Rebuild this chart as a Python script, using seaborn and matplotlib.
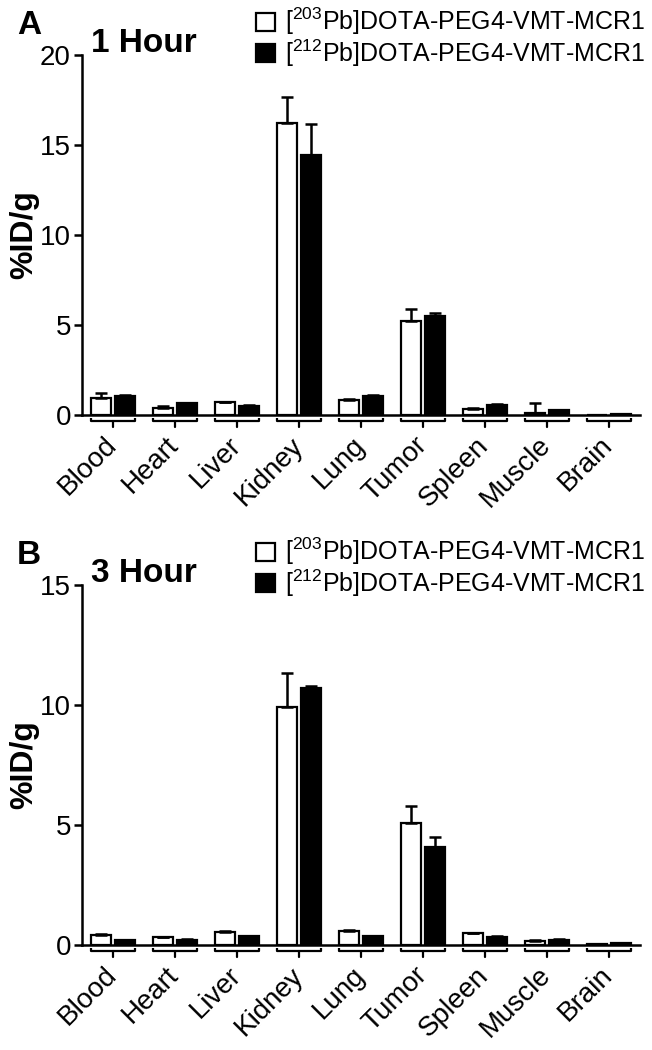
import matplotlib
matplotlib.use("Agg")
import matplotlib.pyplot as plt
import matplotlib.transforms as mtransforms
import seaborn as sns
import pandas as pd
import numpy as np

organs = ['Blood', 'Heart', 'Liver', 'Kidney', 'Lung', 'Tumor', 'Spleen', 'Muscle', 'Brain']
compounds = [r'[$\mathregular{^{203}}$Pb]DOTA-PEG4-VMT-MCR1',
             r'[$\mathregular{^{212}}$Pb]DOTA-PEG4-VMT-MCR1']

# 1 hour: means and SD (upper error)
a_203_mean = [0.96, 0.37, 0.70, 16.24, 0.82, 5.20, 0.35, 0.13, 0.02]
a_203_sd   = [0.28, 0.15, 0.04, 1.41, 0.08, 0.70, 0.06, 0.56, 0.00]
a_212_mean = [1.06, 0.65, 0.52, 14.44, 1.06, 5.50, 0.56, 0.30, 0.07]
a_212_sd   = [0.05, 0.02, 0.02, 1.71, 0.05, 0.15, 0.07, 0.00, 0.00]

# 3 hour
b_203_mean = [0.43, 0.32, 0.56, 9.92, 0.57, 5.10, 0.50, 0.18, 0.03]
b_203_sd   = [0.03, 0.03, 0.01, 1.41, 0.04, 0.70, 0.01, 0.04, 0.00]
b_212_mean = [0.19, 0.22, 0.375, 10.70, 0.36, 4.10, 0.35, 0.22, 0.07]
b_212_sd   = [0.02, 0.01, 0.01, 0.10, 0.01, 0.40, 0.01, 0.01, 0.00]

panels = [
    dict(letter='A', title='1 Hour', m203=a_203_mean, s203=a_203_sd, m212=a_212_mean, s212=a_212_sd,
         ymax=20, yticks=[0, 5, 10, 15, 20], top_px=55),
    dict(letter='B', title='3 Hour', m203=b_203_mean, s203=b_203_sd, m212=b_212_mean, s212=b_212_sd,
         ymax=15, yticks=[0, 5, 10, 15], top_px=585),
]

sns.set_style('ticks')
plt.rcParams['font.family'] = ['Liberation Sans', 'DejaVu Sans']
plt.rcParams['mathtext.fontset'] = 'custom'
plt.rcParams['mathtext.rm'] = 'Liberation Sans'
for k in ['text.color', 'axes.labelcolor', 'xtick.color', 'ytick.color', 'axes.edgecolor']:
    plt.rcParams[k] = 'black'

W, H = 652, 1050
fig = plt.figure(figsize=(W / 100, H / 100), dpi=100)

LW = 1.8
for p in panels:
    top = p['top_px']
    ax = fig.add_axes([82 / W, 1 - (top + 360) / H, (640 - 82) / W, 360 / H])
    df = pd.DataFrame({
        'Organ': organs * 2,
        'val': list(p['m203']) + list(p['m212']),
        'Compound': [compounds[0]] * len(organs) + [compounds[1]] * len(organs),
    })
    sns.barplot(data=df, x='Organ', y='val', hue='Compound', order=organs, hue_order=compounds,
                palette=['white', 'black'], edgecolor='black', linewidth=1.6,
                width=0.8, gap=0.2, errorbar=None, ax=ax, saturation=1)
    # upward-only error bars at bar positions
    for cont, sds in zip(ax.containers, [p['s203'], p['s212']]):
        xs = [b.get_x() + b.get_width() / 2 for b in cont]
        hs = [b.get_height() for b in cont]
        ax.errorbar(xs, hs, yerr=[np.zeros(len(sds)), sds], fmt='none', ecolor='black',
                    elinewidth=LW, capsize=4.2, capthick=LW, zorder=1)
    ax.set_xlim(-0.5, 8.5)
    ax.set_ylim(0, p['ymax'])
    ax.set_yticks(p['yticks'])
    ax.set_xlabel('')
    ax.set_ylabel('%ID/g', fontsize=23, fontweight='bold')
    ax.yaxis.set_label_coords(-(82 - 39) / 558, 0.5)
    for s in ['top', 'right']:
        ax.spines[s].set_visible(False)
    for s in ['left', 'bottom']:
        ax.spines[s].set_linewidth(LW)
    ax.tick_params(axis='y', direction='out', length=6, width=LW, labelsize=20, pad=2)
    ax.tick_params(axis='x', length=0, labelsize=20, pad=19)
    for lab in ax.get_xticklabels():
        lab.set_rotation(45)
        lab.set_ha('right')
        lab.set_va('center')
        lab.set_rotation_mode('anchor')
    # group brackets below each category
    trans = mtransforms.blended_transform_factory(ax.transData, ax.transAxes)
    y_line = -6 / 360
    y_end = -3 / 360
    y_tick = -12 / 360
    for i in range(len(organs)):
        ax.plot([i - 0.36, i - 0.36, i + 0.36, i + 0.36], [y_end, y_line, y_line, y_end],
                transform=trans, color='black', lw=1.6, clip_on=False, solid_capstyle='butt')
        ax.plot([i, i], [y_line, y_tick], transform=trans, color='black', lw=1.6, clip_on=False)
    sns.move_legend(ax, 'upper right', bbox_to_anchor=(645 / W, 1 - (top - 49) / H),
                    bbox_transform=fig.transFigure, frameon=False, title=None, fontsize=18,
                    handlelength=0.75, handleheight=0.75, handletextpad=0.4, labelspacing=0.0,
                    borderaxespad=0, borderpad=0)
    fig.text(29 / W, 1 - (top - 29) / H, p['letter'], fontsize=24, fontweight='bold',
             ha='center', va='center')
    fig.text(91 / W, 1 - (top - 11) / H, p['title'], fontsize=24, fontweight='bold',
             ha='left', va='center')

fig.savefig('out.png', dpi=100)
